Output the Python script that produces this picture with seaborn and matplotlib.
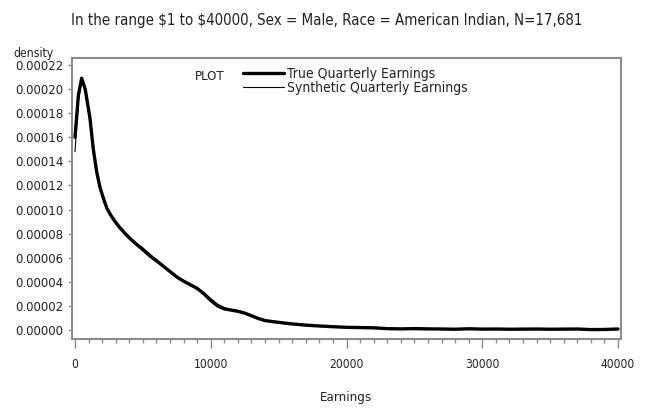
import numpy as np
import pandas as pd
import matplotlib
matplotlib.use('Agg')
import matplotlib.pyplot as plt
import seaborn as sns
from matplotlib.ticker import FormatStrFormatter, MultipleLocator

# earnings grid
earnings = [0, 250, 490, 750, 1100, 1350, 1600, 1850, 2100, 2350, 2650, 2950, 3300, 3700,
            4100, 4550, 5000, 5500, 6000, 6500, 7000, 7500, 8000, 8500, 9000, 9500, 10000,
            10500, 11000, 11500, 12000, 12500, 13000, 13500, 14000, 14500, 15000, 16000,
            17000, 18000, 19000, 20000, 21000, 22000, 23000, 24000, 25000, 26000, 27000,
            28000, 29000, 30000, 31000, 32000, 33000, 34000, 35000, 36000, 37000, 38000,
            39000, 40000]

# density values in units of 1e-6
true_dens = [160, 195, 209, 200, 176, 150, 131, 118, 109, 101, 95, 90, 85, 80,
             75.5, 71, 67, 62, 57.5, 53, 48.5, 44, 40.5, 37.5, 34.5, 30, 24.5,
             20, 17.5, 16.5, 15.5, 14, 11.8, 9.5, 7.8, 7, 6.3, 5,
             4, 3.3, 2.7, 2.2, 2.0, 1.8, 1.1, 0.9, 1.1, 0.9, 0.8,
             0.6, 1.0, 0.7, 0.8, 0.6, 0.7, 0.8, 0.6, 0.7, 0.8, 0.3,
             0.4, 0.8]
synth_dens = [148, 190, 208, 198, 174, 147, 129, 117, 108, 100.5, 94, 89.5, 84, 79,
              74.5, 70, 65.5, 60.5, 56.5, 52.5, 48.5, 44.5, 41, 38, 35, 31, 26,
              21.5, 18.5, 17, 16, 14.5, 12.3, 10, 8.2, 7.2, 6.4, 5.1,
              4.2, 3.4, 2.8, 2.3, 2.1, 1.7, 1.2, 1.0, 0.9, 1.0, 0.7,
              0.8, 0.9, 0.8, 0.6, 0.7, 0.8, 0.6, 0.7, 0.6, 0.7, 0.5,
              0.5, 0.7]

series_names = ['True Quarterly Earnings', 'Synthetic Quarterly Earnings']
title = r"In the range \$1 to \$40000, Sex = Male, Race = American Indian, N=17,681"

df = pd.DataFrame({
    'Earnings': earnings * 2,
    'density': [v * 1e-6 for v in true_dens] + [v * 1e-6 for v in synth_dens],
    'series': [series_names[0]] * len(earnings) + [series_names[1]] * len(earnings),
})

sns.set_style('white')
plt.rcParams['font.family'] = ['DejaVu Sans']
plt.rcParams['font.stretch'] = 'condensed'

W, H = 649, 413
fig = plt.figure(figsize=(W / 100, H / 100), dpi=100)
ax = fig.add_axes([71.5 / W, 1 - 339 / H, 549 / W, 281.5 / H])
renderer = fig.canvas.get_renderer()


def size_for(s, target_px, ref=10):
    # font size that makes the text about target_px wide
    t = fig.text(0, 0, s, fontsize=ref)
    w = t.get_window_extent(renderer).width
    t.remove()
    return ref * target_px / w


def ax_x(px):
    return (px - 71.5) / 549


def ax_y(py):
    return (339 - py) / 281.5


title_fs = size_for(title, 512)
ytick_fs = size_for('0.00022', 49)
xtick_fs = size_for('40000', 34)
dens_fs = size_for('density', 40)
plot_fs = size_for('PLOT', 30)
xlab_fs = size_for('Earnings', 52)

# legend rows sit 14.5 px apart; keep the text box no taller than that
row_pitch = 14.5
probe = fig.text(0, 0, series_names[0], fontsize=10)
probe_h = probe.get_window_extent(renderer).height
probe.remove()
leg_fs = min(size_for(series_names[0], 171), 10 * (row_pitch - 0.5) / probe_h)

sns.lineplot(data=df, x='Earnings', y='density', hue='series', size='series',
             hue_order=series_names, size_order=series_names,
             palette=['black', 'black'], sizes=[2.4, 0.8], ax=ax, legend=False)

ax.set_xlim(-258, 40184)
ax.set_ylim(-0.0000075, 0.0002262)

ax.xaxis.set_major_locator(MultipleLocator(10000))
ax.xaxis.set_minor_locator(MultipleLocator(1000))
ax.yaxis.set_major_formatter(FormatStrFormatter('%.5f'))
ax.set_yticks(np.arange(0, 0.000221, 0.00002))

grey = '#8c8c8c'
for sp in ax.spines.values():
    sp.set_color(grey)
    sp.set_linewidth(1.5)
ax.tick_params(axis='x', which='major', bottom=True, direction='out', length=6.5,
               width=1, color=grey, pad=7, labelsize=xtick_fs, labelcolor='#222222')
ax.tick_params(axis='x', which='minor', bottom=True, direction='out', length=3.2,
               width=1, color=grey)
ax.tick_params(axis='y', which='major', left=True, direction='out', length=3,
               width=1, color=grey, pad=3, labelsize=ytick_fs, labelcolor='#222222')

ax.set_xlabel('Earnings', fontsize=xlab_fs, color='#222222')
ax.xaxis.set_label_coords(0.5, ax_y(398))
ax.xaxis.label.set_va('center')
ax.set_ylabel('')
fig.text(13 / W, 1 - 53 / H, 'density', fontsize=dens_fs, ha='left', va='center',
         color='#222222')
fig.text(327 / W, 1 - 20.5 / H, title, fontsize=title_fs, ha='center', va='center',
         color='#222222')

# legend
ax.text(ax_x(195), ax_y(76), 'PLOT', fontsize=plot_fs, ha='left', va='center',
        transform=ax.transAxes, color='#222222')
fs_px = leg_fs * 100 / 72
handles = [plt.Line2D([], [], color='black', lw=2.4),
           plt.Line2D([], [], color='black', lw=0.8)]


def make_legend(spacing):
    return ax.legend(handles, series_names, loc='center left',
                     bbox_to_anchor=(ax_x(243), ax_y(81)),
                     frameon=False, fontsize=leg_fs, handlelength=41 / fs_px,
                     handletextpad=3 / fs_px, labelspacing=spacing,
                     borderpad=0, borderaxespad=0)


# measure the natural row pitch, then set the rows row_pitch px apart
leg = make_legend(0)
fig.canvas.draw()
b0, b1 = [t.get_window_extent(renderer) for t in leg.get_texts()]
pitch0 = abs((b0.y0 + b0.y1) / 2 - (b1.y0 + b1.y1) / 2)
leg.remove()
leg = make_legend((row_pitch - pitch0) / fs_px)
for t in leg.get_texts():
    t.set_color('#222222')

fig.savefig('out.png', dpi=100)
